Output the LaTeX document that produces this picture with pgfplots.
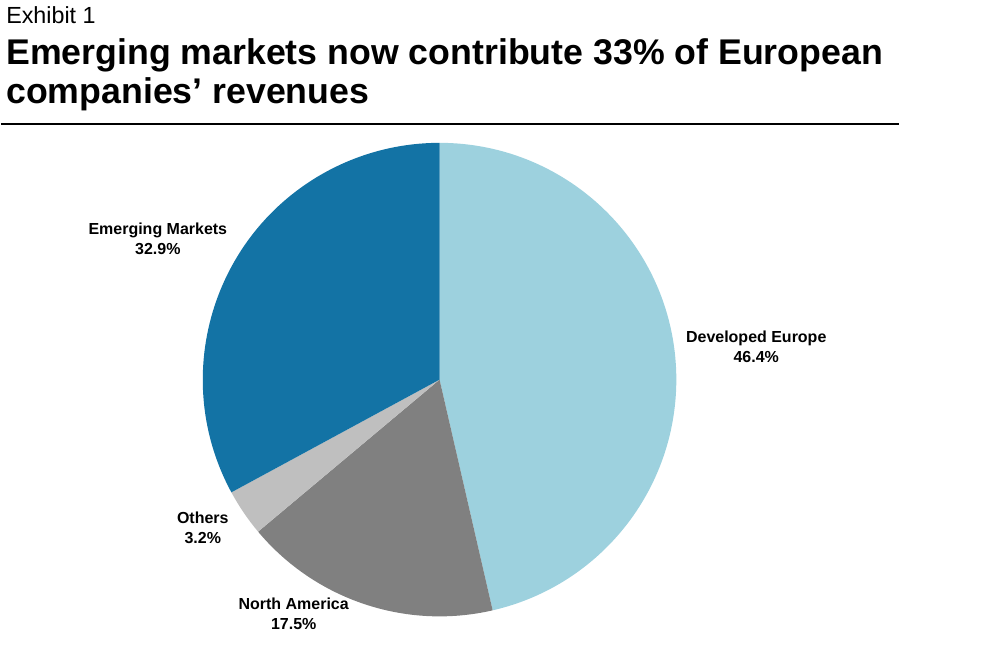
\documentclass[border=0pt]{standalone}
\usepackage{pgfplots}
\usepackage{pgfplotstable}
\pgfplotsset{compat=1.18}
\usepackage{fontspec}
\setmainfont{Liberation Sans}

\definecolor{deveu}{HTML}{9DD1DE}
\definecolor{namer}{HTML}{808080}
\definecolor{others}{HTML}{BFBFBF}
\definecolor{emerg}{HTML}{1373A5}

% share of revenues, clockwise from 12 o'clock
\pgfplotstableread{
name pct col
DevelopedEurope 46.4 deveu
NorthAmerica 17.5 namer
Others 3.2 others
EmergingMarkets 32.9 emerg
}\piedata

\def\rad{177.75pt}

\begin{document}
\begin{tikzpicture}
\begin{axis}[
    width=744pt, height=486pt,
    scale only axis,
    hide axis,
    xmin=0, xmax=992,
    ymin=0, ymax=648,
    clip=false,
]
\addplot[draw=none] coordinates {(0,0) (992,648)};

% wedges
\pgfplotstablegetrowsof{\piedata}
\pgfmathtruncatemacro\lastrow{\pgfplotsretval-1}
\gdef\startang{90}
\pgfplotsforeachungrouped \i in {0,...,\lastrow}{
    \pgfplotstablegetelem{\i}{pct}\of\piedata \let\pct\pgfplotsretval
    \pgfplotstablegetelem{\i}{col}\of\piedata \let\col\pgfplotsretval
    \pgfmathsetmacro\endang{\startang-3.6*\pct}
    \edef\temp{\noexpand\fill[\col] (axis cs:439,268) -- ++(\startang:\rad)
        arc[start angle=\startang, end angle=\endang, radius=\rad] -- cycle;}
    \temp
    \global\let\startang\endang
}

% header
\node[anchor=base west, inner sep=0pt, font=\fontsize{17.5}{20}\selectfont]
    at (axis cs:5,624) {Exhibit 1};
\node[anchor=base west, inner sep=0pt, font=\fontsize{26.8}{30}\selectfont\bfseries]
    at (axis cs:5,583) {Emerging markets now contribute 33\% of European};
\node[anchor=base west, inner sep=0pt, font=\fontsize{26.8}{30}\selectfont\bfseries]
    at (axis cs:5,544) {companies’ revenues};
\draw[line width=1.5pt] (axis cs:0,524) -- (axis cs:899,524);

% slice labels
\tikzset{lbl/.style={align=center, inner sep=0pt, font=\fontsize{12}{15}\selectfont\bfseries}}
\node[lbl] at (axis cs:157,409) {Emerging Markets\\32.9\%};
\node[lbl] at (axis cs:756,301) {Developed Europe\\46.4\%};
\node[lbl] at (axis cs:202,120) {Others\\3.2\%};
\node[lbl] at (axis cs:293,34) {North America\\17.5\%};
\end{axis}
\end{tikzpicture}
\end{document}
